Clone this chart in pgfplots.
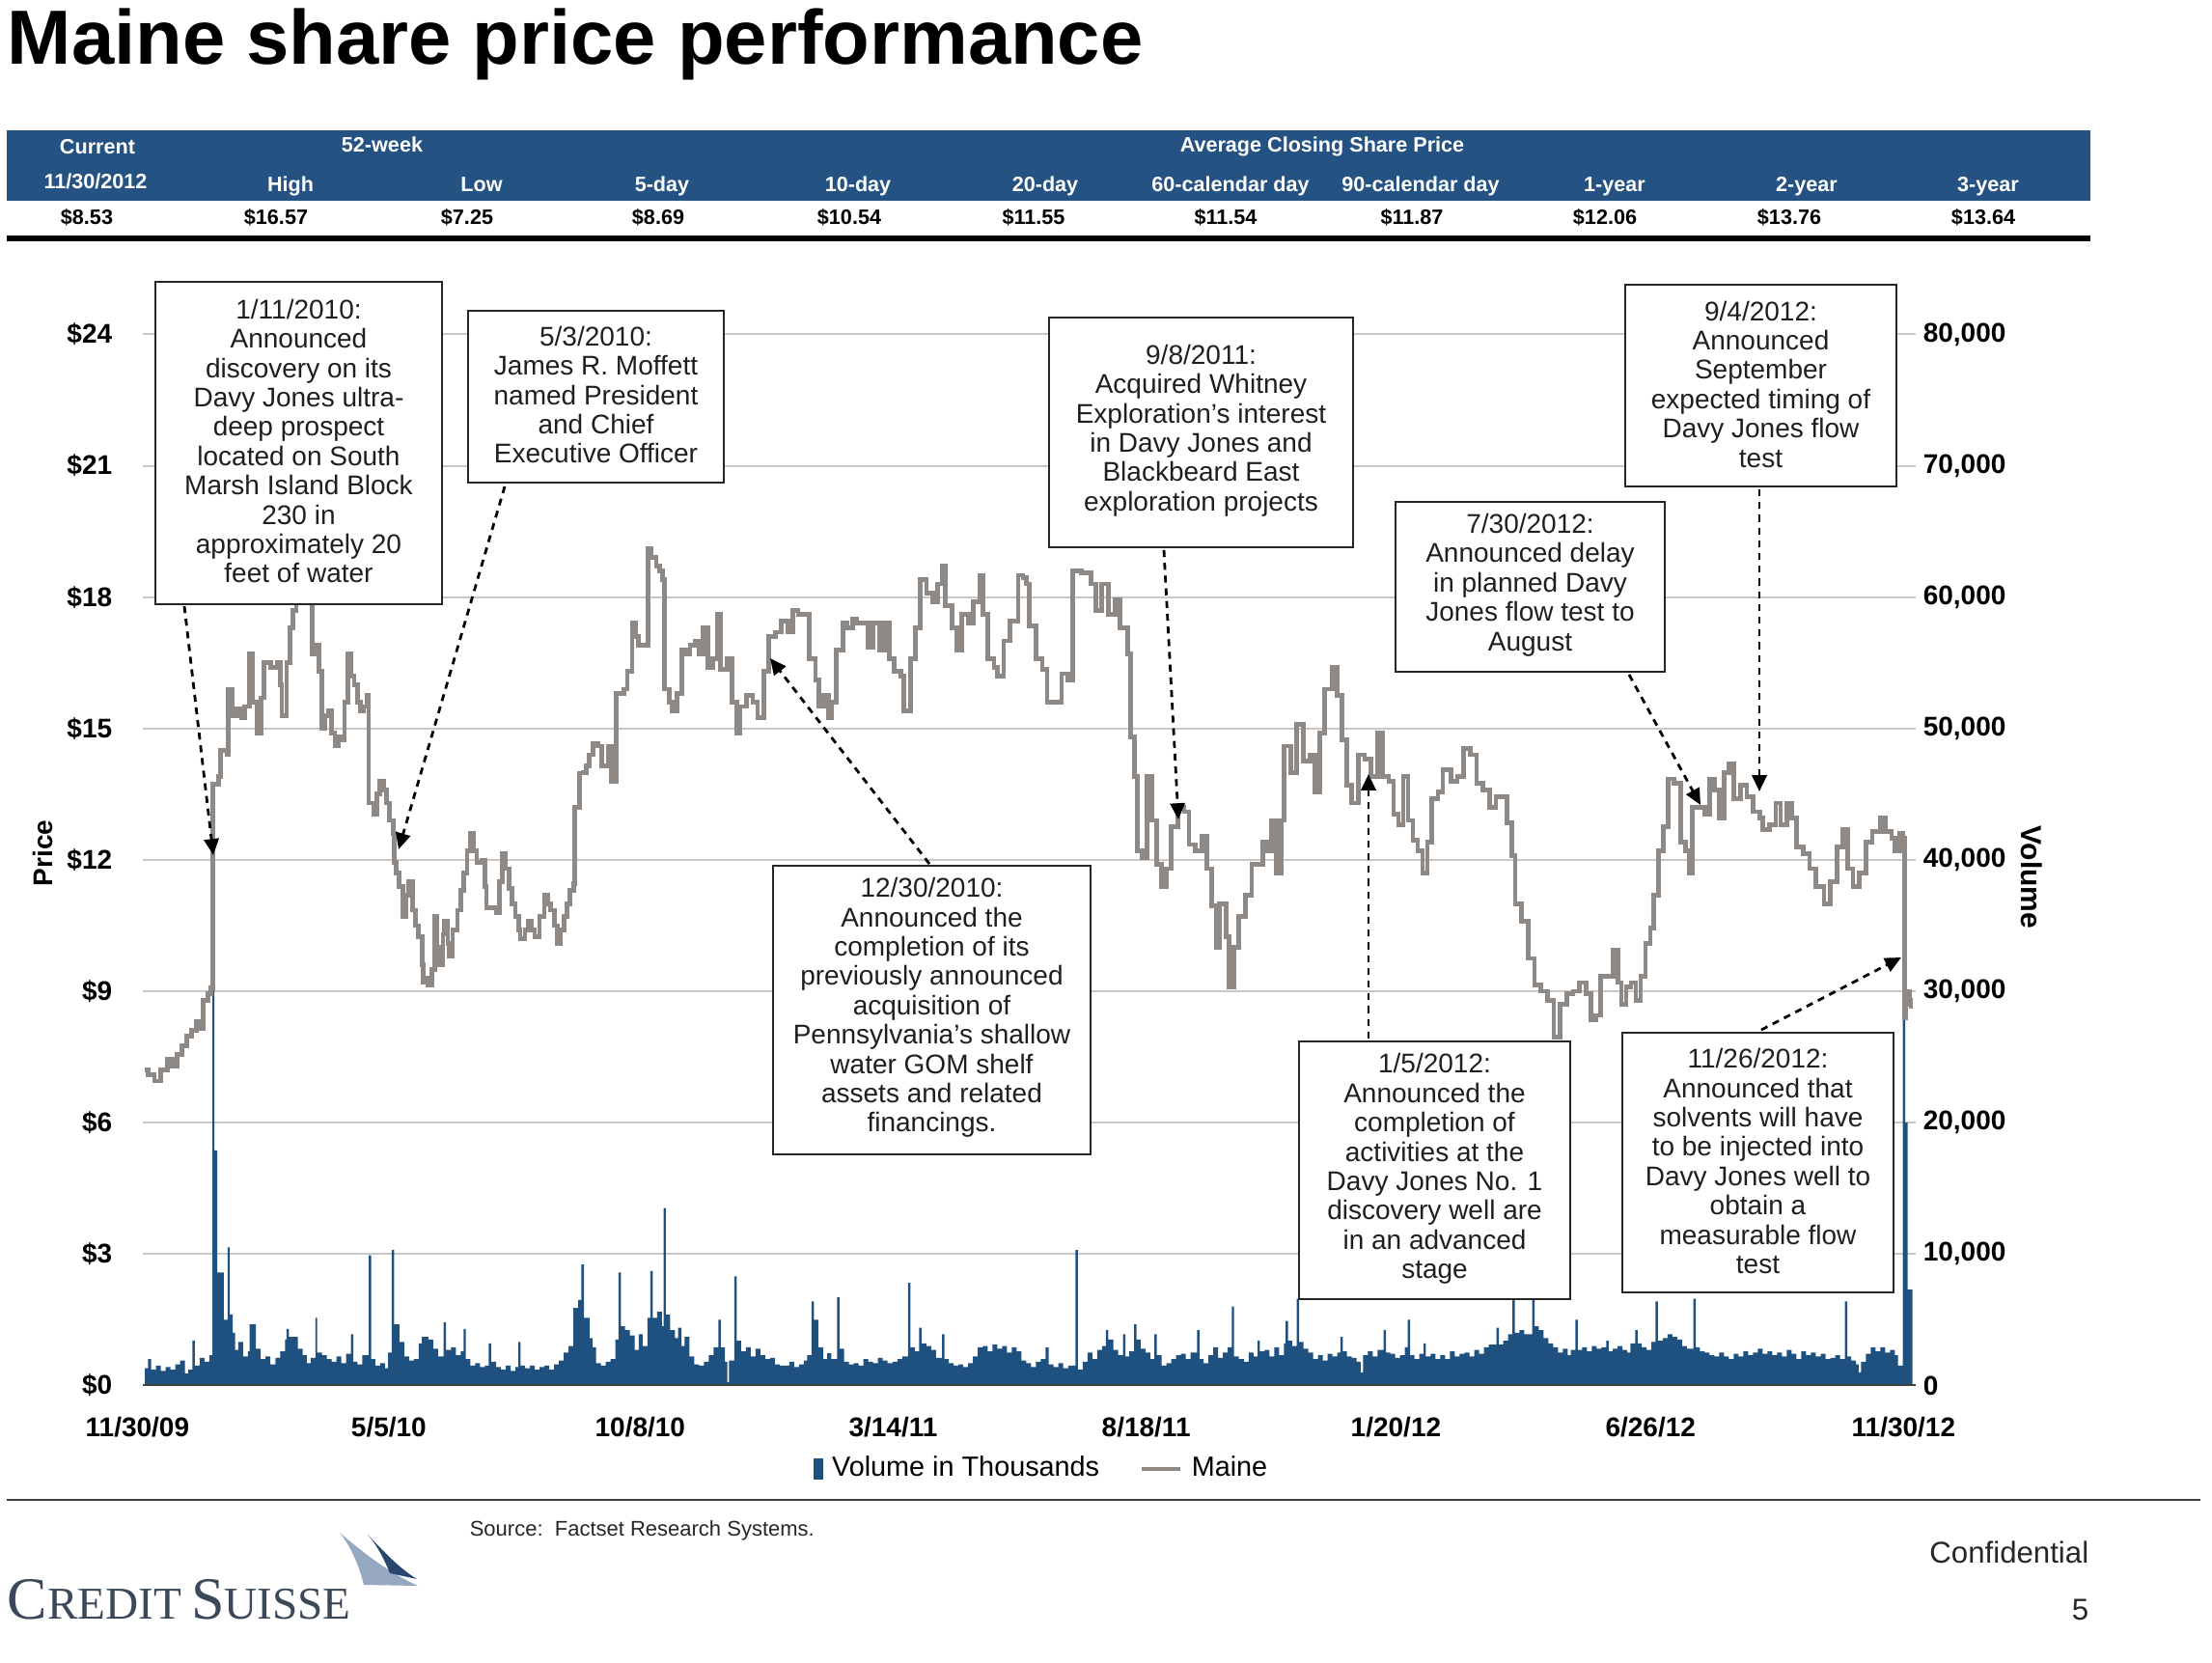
\documentclass[border=0pt]{standalone}
\usepackage{fontspec}
\setmainfont{Liberation Sans}
\newfontfamily\logofont{Liberation Serif}
\usepackage{pgfplots}
\pgfplotsset{compat=1.18}
\usetikzlibrary{arrows.meta}
\definecolor{hdrblue}{RGB}{36,82,130}
\definecolor{volblue}{RGB}{30,80,128}
\definecolor{pricegray}{RGB}{142,137,133}
\definecolor{gridgray}{RGB}{200,200,200}
\definecolor{logoblue}{RGB}{58,72,90}
\definecolor{sail1}{RGB}{150,168,192}
\definecolor{sail2}{RGB}{40,70,110}
\newcommand\hdr{\fontsize{5.4}{6}\selectfont\bfseries}
\newcommand\tck{\fontsize{7}{8}\selectfont\bfseries}
\begin{document}
\begin{tikzpicture}
\path[use as bounding box] (0,0) rectangle (573pt,-430.75pt);
% ---------- volume axis (right) ----------
\begin{axis}[
  at={(37pt,-358.85pt)}, anchor=south west,
  scale only axis, width=459.25pt, height=272.25pt,
  xmin=-1.2, xmax=1099, ymin=0, ymax=80000,
  axis x line=none, axis y line*=right,
  y axis line style={draw=none},
  ytick={0,10000,20000,30000,40000,50000,60000,70000,80000},
  yticklabels={0,{10,000},{20,000},{30,000},{40,000},{50,000},{60,000},{70,000},{80,000}},
  scaled y ticks=false,
  ymajorgrids, major grid style={gridgray, line width=0.5pt},
  major tick length=0pt,
  yticklabel style={font=\tck, anchor=west, inner sep=0pt, xshift=1.75pt},
]
\addplot[const plot, fill=volblue, draw=none] table[row sep=\\]{
x y\\ 0 1300\\ 2 2000\\ 4 1200\\ 7 1500\\ 10 1100\\ 13 1400\\ 16 1200\\ 19 1600\\ 22 1900\\ 25 900\\ 27 1200\\ 29.5 3400\\ 31 1500\\ 34 2100\\ 37 1800\\ 40 2300\\
42 41000\\ 43.2 17900\\ 45 8600\\ 49 5000\\ 51.5 10500\\ 52.8 5400\\ 54.5 4000\\ 56 2700\\ 58 3300\\ 61 2200\\ 64 2600\\ 65 4650\\ 69 2800\\ 72 2000\\ 75 2200\\ 78 1600\\ 81 2100\\ 84 2600\\ 87 3500\\ 88 4300\\ 89.5 3700\\ 95 2800\\ 98 2300\\ 100.5 1700\\ 103 2100\\ 106 5150\\ 107 2500\\ 110 2300\\ 113 2000\\ 116 1800\\ 119 2200\\ 122 1700\\ 125 2400\\ 128 3900\\ 129.5 1800\\ 132 1600\\ 135 2300\\ 139 9900\\ 140.5 2000\\ 143 1500\\ 146 1700\\ 149 1300\\ 151 2500\\ 153.2 10300\\ 154.7 4650\\ 158 3300\\ 161 2200\\ 164 1900\\ 167 2000\\ 170 3200\\ 172 3700\\ 176 3500\\ 179 2800\\ 182 2200\\ 185.5 4800\\ 187 2700\\ 190 2900\\ 193 2300\\ 196 2600\\ 197.8 4300\\ 199.2 2000\\ 202 1500\\ 205 1700\\ 208 1400\\ 211 1500\\ 213.5 3200\\ 215 1800\\ 218 1400\\ 221 1200\\ 224 1500\\ 227 1100\\ 230 1400\\ 231.8 3300\\ 233.2 1500\\ 236 1300\\ 239 1500\\ 242 1200\\ 245 1400\\ 248 1500\\ 251 1200\\ 254 1600\\ 257 1900\\ 260 2500\\ 263 3000\\ 266 5900\\ 269 6500\\ 271 9200\\ 272.5 5150\\ 276 3600\\ 278 2900\\ 280 1700\\ 283 1500\\ 286 1800\\ 289 2000\\ 292 3500\\ 294 8600\\ 295.5 4500\\ 298 4200\\ 301 3800\\ 304 2700\\ 306.5 3900\\ 309 3000\\ 312 5150\\ 313.7 8700\\ 315.2 5150\\ 318 5600\\ 321 4500\\ 322 13500\\ 323.3 5400\\ 326 4200\\ 329 3600\\ 331 4400\\ 333 3000\\ 335 3700\\ 338 2200\\ 341 1600\\ 344 1500\\ 347 1800\\ 350 2300\\ 353 2900\\ 356 5000\\ 357.5 2900\\ 360 1800\\ 361.5 250\\ 362.5 1900\\ 365.8 8300\\ 367.3 3400\\ 370 2600\\ 373 2900\\ 376 2200\\ 379 2800\\ 382 2300\\ 385 2000\\ 388 2100\\ 391 1600\\ 394 1500\\ 397 1500\\ 400 1800\\ 403 1400\\ 406 1600\\ 409 1900\\ 411 2300\\ 413.7 6400\\ 415.2 5000\\ 418 2900\\ 421 2000\\ 423.5 2450\\ 426 2000\\ 429.7 6700\\ 431.2 2800\\ 434 1800\\ 437 1600\\ 440 1700\\ 443 1500\\ 446 2000\\ 449 1800\\ 452 1700\\ 455 2100\\ 458 1900\\ 461 1700\\ 464 1800\\ 467 2000\\ 470 2200\\ 473.7 7800\\ 475.2 2900\\ 478 2600\\ 480.5 4400\\ 482 3200\\ 485 3000\\ 488 2700\\ 491 2100\\ 494.7 3900\\ 496.2 2000\\ 499 1700\\ 502 1500\\ 505 1600\\ 508 1400\\ 511 1700\\ 514 2200\\ 517 2900\\ 520 3000\\ 523 2600\\ 526 3100\\ 529 2800\\ 532 3000\\ 535 2500\\ 538 2900\\ 541 2600\\ 544 1900\\ 547 1700\\ 550 1400\\ 553 1800\\ 556 2000\\ 559 2900\\ 561 1600\\ 564 1400\\ 567 1700\\ 570 1300\\ 573 1500\\ 577.5 10300\\ 579 1200\\ 582 1800\\ 585 2500\\ 588 2000\\ 591 2700\\ 594 3000\\ 596.5 4200\\ 598 3500\\ 601 2700\\ 604 2300\\ 607 3900\\ 608.5 2200\\ 611 2600\\ 614 4650\\ 615.5 3500\\ 618 2800\\ 621 2500\\ 624 2000\\ 626.5 3900\\ 628 2300\\ 631 1500\\ 634 1700\\ 637 2000\\ 640 2300\\ 643 2400\\ 646 2000\\ 649 2500\\ 653 4200\\ 654.5 2000\\ 657 1700\\ 660 2300\\ 663 2900\\ 666 2100\\ 669 2500\\ 672 2900\\ 674.6 6000\\ 676 2200\\ 679 2000\\ 682 1800\\ 685 2500\\ 688 2200\\ 690.6 3400\\ 692 2600\\ 695 2700\\ 698 2200\\ 701 2900\\ 704 2300\\ 707 3200\\ 708 4900\\ 709.5 3400\\ 712 3000\\ 714.8 6600\\ 716.3 3300\\ 719 2800\\ 722 2500\\ 725 2000\\ 728 2300\\ 731 1900\\ 734 2400\\ 737 2200\\ 740 2500\\ 742 3700\\ 743.5 2600\\ 746 2200\\ 749 2100\\ 752 1800\\ 754.6 1000\\ 756 2300\\ 759 2600\\ 762 2200\\ 765 2700\\ 768.8 4200\\ 770.3 2500\\ 773 2400\\ 776 2100\\ 779 2300\\ 782 2900\\ 783.7 5000\\ 785.2 2300\\ 788 2000\\ 791 2400\\ 793.6 3200\\ 795 2200\\ 798 2400\\ 801 2000\\ 804 2300\\ 807 2000\\ 810 2600\\ 813 2200\\ 816 2400\\ 819 2500\\ 822 2200\\ 825 2700\\ 828 2400\\ 831 2900\\ 834 3100\\ 838.8 4400\\ 840.3 3100\\ 843 3400\\ 846 3900\\ 848.7 6600\\ 850.2 4000\\ 853 4200\\ 856 3900\\ 861 6600\\ 862.5 4500\\ 865 4200\\ 868 3600\\ 871 3200\\ 874 2900\\ 877 2500\\ 880 2800\\ 883 2300\\ 885 2700\\ 887.8 5000\\ 889.3 2700\\ 892 2900\\ 895 2600\\ 898 3000\\ 901 2800\\ 904 2900\\ 907 3400\\ 908.5 2600\\ 911 2800\\ 914 3000\\ 917 2700\\ 920 2500\\ 922 3200\\ 925 4200\\ 926.5 3200\\ 929 2900\\ 932 2700\\ 935 3300\\ 937.5 6400\\ 939 3400\\ 942 3600\\ 945 3900\\ 948 3700\\ 951 3500\\ 954 3000\\ 957 2800\\ 961 6600\\ 962.5 2900\\ 965 2600\\ 968 2500\\ 971 2300\\ 974 2200\\ 977 2500\\ 980 2200\\ 983 2000\\ 986 2400\\ 989 2200\\ 992 2600\\ 995 2300\\ 998 2500\\ 1001 2800\\ 1004 2400\\ 1007 2600\\ 1010 2300\\ 1013 2500\\ 1016 2200\\ 1019 2700\\ 1022 2400\\ 1025 2000\\ 1028 2600\\ 1031 2300\\ 1034 2500\\ 1037 2200\\ 1040 2400\\ 1043 2000\\ 1046 2100\\ 1049 2300\\ 1052 2000\\ 1055 6400\\ 1056.5 2200\\ 1059 1900\\ 1062 1600\\ 1063.6 1000\\ 1065 1800\\ 1068 2400\\ 1071 2900\\ 1074 2600\\ 1077 2900\\ 1080 2500\\ 1083 2700\\ 1086 2300\\ 1088 1500\\ 1091 34000\\ 1092.5 20000\\ 1094 7300\\ 1097 0\\
} \closedcycle;
\end{axis}
% ---------- price axis (left) ----------
\begin{axis}[
  at={(37pt,-358.85pt)}, anchor=south west,
  scale only axis, width=459.25pt, height=272.25pt,
  xmin=-1.2, xmax=1099, ymin=0, ymax=24,
  axis x line*=bottom, axis y line*=left,
  y axis line style={draw=none},
  x axis line style={draw=black!75, line width=0.5pt, -},
  xtick={0,156,312,469,626,781,939,1096},
  xticklabels={11/30/09,5/5/10,10/8/10,3/14/11,8/18/11,1/20/12,6/26/12,11/30/12},
  ytick={0,3,6,9,12,15,18,21,24},
  yticklabels={\$0,\$3,\$6,\$9,\$12,\$15,\$18,\$21,\$24},
  major tick length=0pt,
  tick label style={font=\tck, inner sep=0pt},
  xticklabel style={anchor=north, yshift=-8.1pt, xshift=-1.9pt},
  yticklabel style={anchor=east, xshift=-7.75pt},
  legend style={draw=none, fill=none, inner sep=0pt, at={(0.3779,-0.0795)}, anchor=west,
    font=\fontsize{7.2}{8}\selectfont, legend columns=2,
    /tikz/every even column/.append style={column sep=8.3pt},
    /tikz/every odd column/.append style={column sep=0.4pt}},
]
\addlegendimage{legend image code/.code={\fill[volblue] (0pt,-2.6pt) rectangle (2pt,2.6pt);}}
\addlegendentry{Volume in Thousands}
\addplot[const plot, color=pricegray, line width=1.2pt,
  legend image code/.code={\draw[pricegray,line width=1.2pt] (0pt,0pt) -- (10pt,0pt);}]
 table[row sep=\\]{
x y\\ 0 7.2\\ 2 7.1\\ 6 6.95\\ 10 7.2\\ 14 7.46\\ 17 7.3\\ 20 7.55\\ 23 7.75\\ 26 7.97\\ 29 8.1\\ 32 8.3\\ 34 8.15\\ 36 8.8\\ 39 8.95\\ 41 9.07\\
42 13.72\\ 46 13.9\\ 47 14.5\\ 51 14.4\\ 52 15.9\\ 54 15.3\\ 57 15.45\\ 60 15.25\\ 62 15.5\\ 65 16.7\\ 67 15.6\\ 70 14.9\\ 72 15.7\\ 74 16.5\\ 78 16.4\\ 82 16.5\\ 84 16.0\\ 85 15.3\\ 88 16.5\\ 90 17.3\\ 92 17.7\\ 94 17.96\\ 96 18.6\\ 99 18.4\\ 102 17.96\\ 104 16.7\\ 106 16.9\\ 108 16.3\\ 110 15.0\\ 112 15.3\\ 114 15.4\\ 116 14.9\\ 118 14.6\\ 120 14.8\\ 122 14.75\\ 124 15.6\\ 126 16.7\\ 128 16.2\\ 130 16.0\\ 132 15.6\\ 134 15.4\\ 136 15.5\\ 138 15.75\\ 139 13.3\\ 142 13.05\\ 144 13.5\\ 146 13.8\\ 148 13.6\\ 150 13.3\\ 152 12.9\\ 154 12.6\\ 155 11.95\\ 156 11.7\\ 158 11.4\\ 160 10.7\\ 162 11.2\\ 164 11.5\\ 166 10.85\\ 168 10.5\\ 170 10.25\\ 172 9.6\\ 173 9.2\\ 175 9.3\\ 176 9.15\\ 178 9.5\\ 180 10.7\\ 181 10.0\\ 183 9.6\\ 185 10.3\\ 186 10.6\\ 188 10.1\\ 189 9.8\\ 191 10.4\\ 194 10.85\\ 196 11.3\\ 198 11.7\\ 200 12.2\\ 202 12.6\\ 204 12.2\\ 206 11.95\\ 209 12.0\\ 211 11.4\\ 212 10.9\\ 215 10.9\\ 218 10.8\\ 220 11.5\\ 222 12.15\\ 224 11.8\\ 226 11.35\\ 228 11.0\\ 230 10.7\\ 232 10.4\\ 233 10.2\\ 236 10.4\\ 238 10.6\\ 240 10.4\\ 242 10.25\\ 245 10.7\\ 248 11.2\\ 250 11.0\\ 252 10.85\\ 254 10.5\\ 256 10.1\\ 258 10.4\\ 260 10.7\\ 262 11.0\\ 264 11.3\\ 266 11.45\\ 267 13.2\\ 270 13.98\\ 272 14.0\\ 274 14.15\\ 276 14.4\\ 278 14.65\\ 281 14.6\\
283.5 14.15\\ 287.5 14.6\\ 289.5 13.8\\ 292.5 15.8\\ 297.5 15.9\\ 299.4 16.3\\ 302.4 17.4\\ 304.4 17.1\\ 306.4 16.9\\ 310.4 16.9\\ 312.4 19.1\\ 314.4 18.9\\ 317.4 18.7\\ 319.4 18.6\\ 321.4 18.4\\ 322.4 15.9\\ 325.4 15.6\\ 327.4 15.4\\ 330.4 15.8\\ 333.4 16.8\\ 336 16.7\\ 338.4 16.9\\ 341.4 17.0\\ 344 16.7\\ 346.3 17.3\\ 349.3 16.4\\ 352.3 16.6\\ 355.3 17.6\\ 357.3 16.35\\ 361.3 16.6\\ 364.3 15.6\\ 367.3 14.9\\ 369.3 15.5\\ 373.3 15.75\\ 377.3 15.6\\ 380.3 15.25\\ 384.3 16.3\\ 387.3 17.1\\ 391.3 17.2\\ 395.2 17.45\\ 399.2 17.2\\ 402.2 17.7\\ 405.5 17.6\\ 409.2 17.6\\ 412.2 16.6\\ 416.2 16.1\\ 418.2 15.5\\ 421.2 15.75\\ 424.2 15.25\\ 426.2 15.6\\ 429.2 16.8\\ 433.2 17.4\\ 436 17.3\\ 439.2 17.5\\ 442 17.4\\ 445.1 17.4\\ 449.1 16.85\\ 452.1 17.4\\ 456.1 16.8\\ 459.1 17.4\\ 462.1 16.6\\ 465.1 16.3\\ 469.1 16.2\\ 471.1 15.4\\ 475.1 16.6\\ 478.1 17.3\\ 481.1 18.4\\ 485.1 18.1\\ 489.1 17.9\\ 492.1 18.3\\ 495 18.7\\ 497 17.8\\ 501 17.3\\ 504 16.8\\ 507 17.6\\ 511 17.4\\ 514 17.9\\ 518 18.5\\ 520 17.6\\ 523 16.6\\ 527 16.4\\ 529 16.2\\ 533 17.0\\ 537 17.45\\ 542 18.5\\ 545 18.45\\ 547 18.3\\ 549 17.35\\ 553 16.6\\ 557 16.35\\ 560 15.6\\ 565 15.6\\ 569 16.25\\ 573 16.1\\ 576 18.6\\ 581 18.55\\ 587 18.3\\ 590 17.7\\ 594 18.3\\ 598 17.6\\ 602 17.95\\ 605 17.3\\ 610 16.7\\ 612 14.8\\ 614 13.9\\ 616 12.2\\ 619 12.05\\ 622 13.9\\ 625 12.9\\ 628 11.9\\ 631 11.4\\ 634 11.8\\ 637 12.75\\ 641 13.2\\ 645 13.1\\ 648 12.35\\ 652 12.2\\ 656 12.55\\ 659 11.8\\ 662 10.95\\ 665 10.0\\ 667 11.0\\ 671 10.25\\ 673 9.1\\ 676 10.0\\ 679 10.7\\ 683 11.2\\ 687 11.9\\ 691 11.9\\ 694 12.4\\ 697 12.2\\ 699 12.9\\ 702 11.7\\ 705 12.9\\ 707 14.6\\ 711 14.0\\ 715 15.1\\ 719 14.25\\ 723 14.4\\ 726 13.55\\ 729 14.9\\ 732 15.9\\ 737 16.4\\ 740 15.75\\ 743 14.75\\ 746 13.7\\ 749 13.3\\ 753 14.4\\ 757 14.3\\ 761 13.9\\ 765 14.9\\ 768 13.9\\ 772 13.8\\ 775 13.05\\ 778 12.8\\ 781 13.9\\ 784 12.9\\ 787 12.45\\ 790 12.2\\ 793 11.7\\ 796 12.4\\ 798.5 13.4\\ 802.5 13.55\\ 805.5 14.05\\ 810.5 13.8\\ 814.5 13.9\\ 818.5 14.55\\ 822.5 14.4\\ 826.5 13.75\\ 830.5 13.6\\ 834.5 13.2\\ 838.5 13.45\\ 842.5 13.45\\ 845.5 12.85\\ 848.5 12.1\\ 850.5 11.0\\ 854.4 10.6\\ 858.4 9.75\\ 862.4 9.15\\ 866.4 9.0\\ 870.4 8.8\\ 874.4 7.95\\ 878.4 8.7\\ 882.4 8.95\\ 886.4 9.0\\ 890.4 9.2\\ 894.4 8.95\\ 897.3 8.35\\ 900.3 8.45\\ 903.3 9.35\\ 907.3 9.35\\ 911.3 9.95\\ 914.3 9.2\\ 916.3 8.7\\ 919.3 9.1\\ 922.3 9.2\\ 925.3 8.8\\ 928.3 9.35\\ 931.3 10.1\\ 934.3 10.45\\ 936.3 11.2\\ 939.3 12.2\\ 942.3 12.75\\ 945.3 13.85\\ 949.2 13.75\\ 953.2 12.4\\ 956.2 12.2\\ 958.2 11.7\\ 960.2 13.2\\ 964.2 13.2\\ 968.2 13.05\\ 971.2 13.85\\ 974.2 13.6\\ 977.2 12.95\\ 980.2 14.0\\ 983.2 14.2\\ 986.2 13.4\\ 990.2 13.7\\ 994.2 13.45\\ 998.2 13.1\\ 1002.1 12.95\\ 1004.1 12.7\\ 1008.1 12.8\\ 1012.1 13.3\\ 1015.1 12.8\\ 1019.1 13.3\\ 1022.1 12.95\\ 1025.1 12.3\\ 1029.1 12.15\\ 1033.1 11.8\\ 1037.1 11.4\\ 1042.1 11.0\\ 1046.1 11.5\\ 1050 12.3\\ 1054 12.7\\ 1057 11.8\\ 1060 11.4\\ 1064 11.7\\ 1068 12.4\\ 1072 12.65\\ 1077 12.95\\ 1080 12.65\\ 1084 12.5\\ 1086 12.2\\ 1089 12.6\\ 1091 12.5\\ 1092 8.4\\ 1093 8.7\\ 1094 9.0\\ 1095 8.8\\ 1096 8.6\\
};
\addlegendentry{Maine}
\end{axis}
% ---------- decorations in pixel units ----------
\begin{scope}[x=0.25pt,y=-0.25pt,
  abox/.style={draw=black!85, line width=0.7pt, fill=white},
  atext/.style={align=center, font=\fontsize{7}{7.6}\selectfont, text=black!88, inner sep=0pt},
  aarrow/.style={black, line width=0.7pt, dash pattern=on 1.8pt off 1.5pt, -{Triangle[length=4.2pt,width=3.8pt]}}]
% title
\node[anchor=base west, inner sep=0pt] at (7,67) {\fontsize{19.9}{22}\selectfont\bfseries Maine share price performance};
% header band
\fill[hdrblue] (7,135) rectangle (2166,208);
\begin{scope}[every node/.style={anchor=base, inner sep=0pt, text=white, font=\hdr}]
\node at (101,160) {Current};
\node at (396,158) {52-week};
\node at (1370,158) {Average Closing Share Price};
\node at (99,195) {11/30/2012};
\node at (301,199) {High};
\node at (499,199) {Low};
\node at (686,199) {5-day};
\node at (889,199) {10-day};
\node at (1083,199) {20-day};
\node at (1275,199) {60-calendar day};
\node at (1472,199) {90-calendar day};
\node at (1673,199) {1-year};
\node at (1872,199) {2-year};
\node at (2060,199) {3-year};
\end{scope}
\begin{scope}[every node/.style={anchor=base, inner sep=0pt, text=black, font=\hdr}]
\node at (90,233) {\$8.53};
\node at (286,233) {\$16.57};
\node at (484,233) {\$7.25};
\node at (682,233) {\$8.69};
\node at (880,233) {\$10.54};
\node at (1071,233) {\$11.55};
\node at (1270,233) {\$11.54};
\node at (1463,233) {\$11.87};
\node at (1663,233) {\$12.06};
\node at (1854,233) {\$13.76};
\node at (2055,233) {\$13.64};
\end{scope}
\draw[line width=1.3pt] (7,247) -- (2166,247);
% axis titles
\node[rotate=90, inner sep=0pt, font=\fontsize{7}{8}\selectfont\bfseries] at (44,884) {Price};
\node[rotate=-90, inner sep=0pt, font=\fontsize{7.5}{8}\selectfont\bfseries] at (2105,909) {Volume};
% annotation boxes
\draw[abox] (161,292) rectangle (458,626);
\node[atext] at (309.5,457) {1/11/2010:\\Announced\\discovery on its\\Davy Jones ultra-\\deep prospect\\located on South\\Marsh Island Block\\230 in\\approximately 20\\feet of water};
\draw[abox] (485,322) rectangle (750,500);
\node[atext] at (617.5,409) {5/3/2010:\\James R. Moffett\\named President\\and Chief\\Executive Officer};
\draw[abox] (801,897) rectangle (1130,1196);
\node[atext] at (965.5,1044) {12/30/2010:\\Announced the\\completion of its\\previously announced\\acquisition of\\Pennsylvania’s shallow\\water GOM shelf\\assets and related\\financings.};
\draw[abox] (1087,329) rectangle (1402,567);
\node[atext] at (1244.5,446) {9/8/2011:\\Acquired Whitney\\Exploration’s interest\\in Davy Jones and\\Blackbeard East\\exploration projects};
\draw[abox] (1346,1079) rectangle (1627,1346);
\node[atext] at (1486.5,1211) {1/5/2012:\\Announced the\\completion of\\activities at the\\Davy Jones No. 1\\discovery well are\\in an advanced\\stage};
\draw[abox] (1446,520) rectangle (1725,696);
\node[atext] at (1585.5,606) {7/30/2012:\\Announced delay\\in planned Davy\\Jones flow test to\\August};
\draw[abox] (1684,295) rectangle (1965,504);
\node[atext] at (1824.5,398) {9/4/2012:\\Announced\\September\\expected timing of\\Davy Jones flow\\test};
\draw[abox] (1681,1070) rectangle (1962,1339);
\node[atext] at (1821.5,1203) {11/26/2012:\\Announced that\\solvents will have\\to be injected into\\Davy Jones well to\\obtain a\\measurable flow\\test};
% arrows
\draw[aarrow] (191,628) -- (221,886);
\draw[aarrow] (523,504) -- (413,880);
\draw[aarrow] (963,895) -- (798,682);
\draw[aarrow] (1206,570) -- (1221,849);
\draw[aarrow] (1418,1076) -- (1418,802);
\draw[aarrow] (1688,699) -- (1762,834);
\draw[aarrow] (1823,507) -- (1823,820);
\draw[aarrow] (1825,1067) -- (1970,992);
% bottom rule and footer
\draw[black!75, line width=0.6pt] (7,1554) -- (2280,1554);
\node[anchor=base west, inner sep=0pt, font=\fontsize{5.5}{6}\selectfont, text=black!85] at (486,1591) {Source:\ \ Factset Research Systems.};
\node[anchor=base east, inner sep=0pt, font=\fontsize{7.8}{9}\selectfont, text=black!85] at (2165,1619) {Confidential};
\node[anchor=base east, inner sep=0pt, font=\fontsize{7.8}{9}\selectfont, text=black!85] at (2165,1678) {5};
% logo
\node[anchor=base west, inner sep=0pt, text=logoblue] at (7,1677) {\logofont\fontsize{15.5}{16}\selectfont C\fontsize{11.8}{12}\selectfont REDIT\hspace{2.5pt}\fontsize{15.5}{16}\selectfont S\fontsize{11.8}{12}\selectfont UISSE};
\fill[sail1] (352,1588) .. controls (372,1605) and (400,1628) .. (433,1643) -- (377,1642) .. controls (372,1622) and (364,1603) .. cycle;
\fill[sail2] (381,1590) .. controls (398,1608) and (414,1625) .. (432,1636) -- (404,1630) .. controls (398,1615) and (390,1600) .. cycle;
\end{scope}
\end{tikzpicture}
\end{document}
